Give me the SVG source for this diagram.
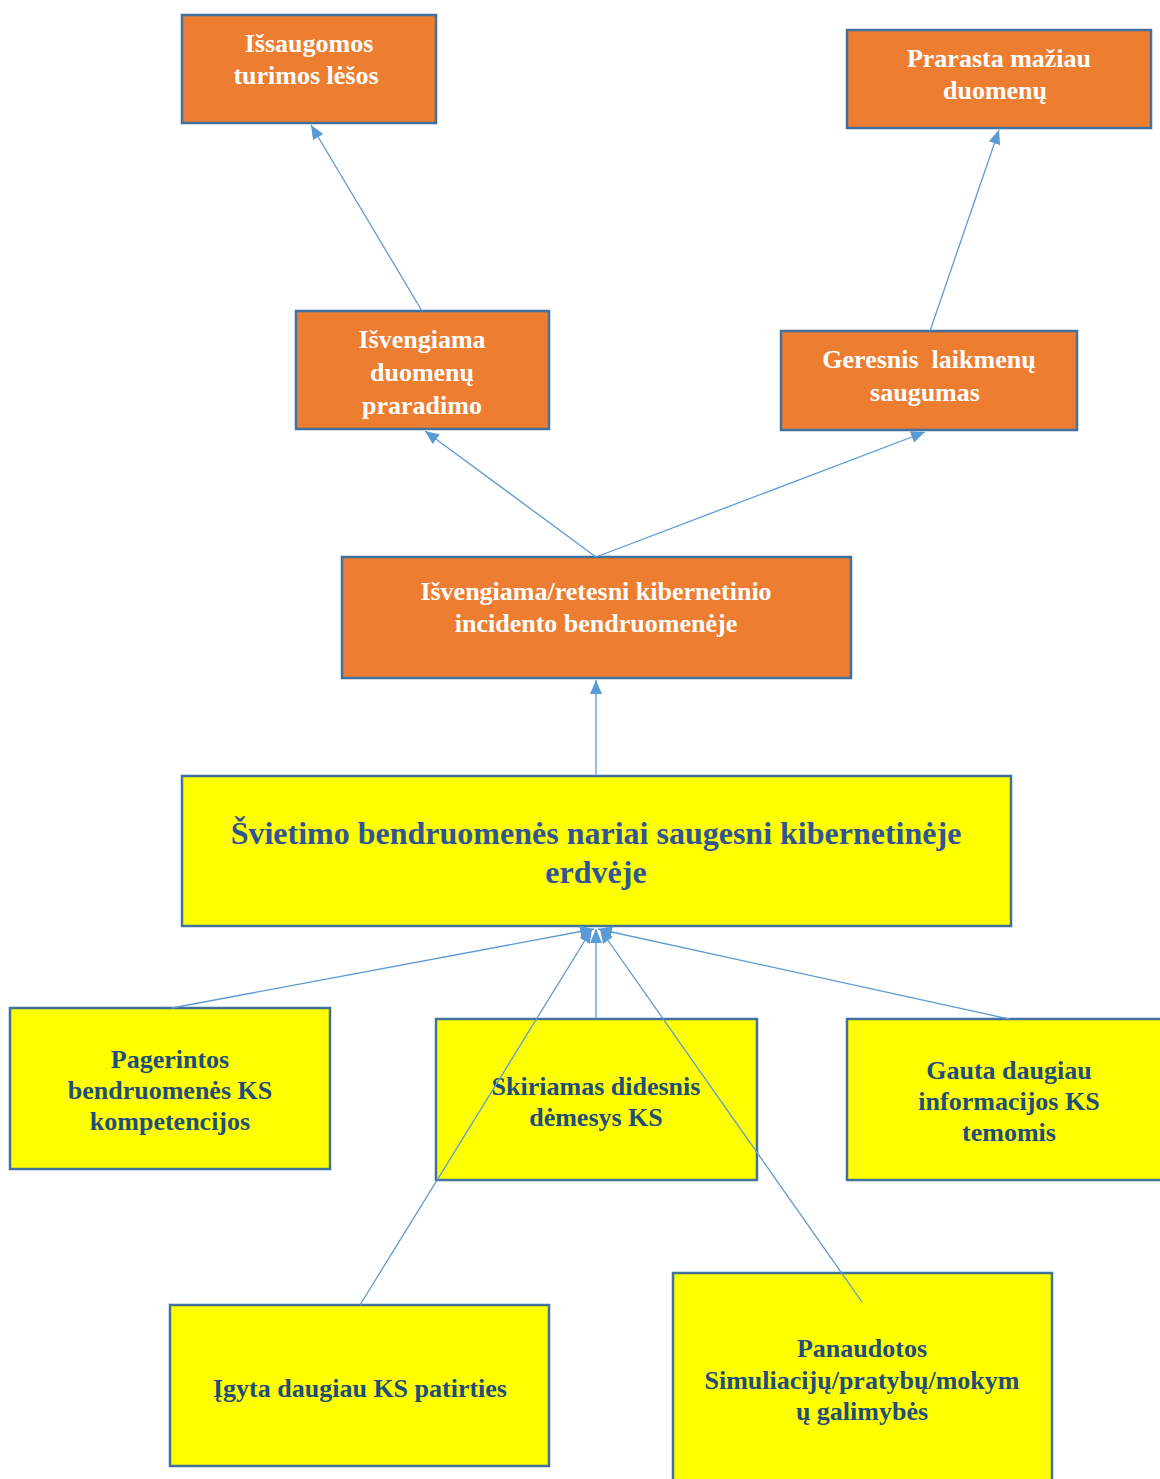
<svg xmlns="http://www.w3.org/2000/svg" width="1160" height="1479" viewBox="0 0 1160 1479">
<style>
.o{fill:#ED7D31;stroke:#41719C;stroke-width:2.5}
.y{fill:#FFFF00;stroke:#41719C;stroke-width:2.5}
.tw{font-family:"Liberation Serif",serif;font-weight:bold;font-size:26px;fill:#FFFFFF;text-anchor:middle}
.tb{font-family:"Liberation Serif",serif;font-weight:bold;font-size:26px;fill:#1F4E79;text-anchor:middle}
.tm{font-family:"Liberation Serif",serif;font-weight:bold;font-size:32px;fill:#2F5597;text-anchor:middle}
.c line{stroke:#5B9BD5;stroke-width:1.3;fill:none}
</style>
<defs>
<marker id="ah" viewBox="0 0 14 12" refX="14" refY="6" markerWidth="14" markerHeight="12" markerUnits="userSpaceOnUse" orient="auto">
<path d="M0,0 L14,6 L0,12 z" fill="#5B9BD5"/>
</marker>
</defs>
<rect width="1160" height="1479" fill="#FFFFFF"/>
<g id="n1"><rect class="o" x="182" y="15" width="254" height="108"/>
<text class="tw" x="309" y="52">Išsaugomos</text><text class="tw" x="306" y="84">turimos lėšos</text></g>
<g id="n2"><rect class="o" x="847" y="30" width="304" height="98"/>
<text class="tw" x="999" y="67">Prarasta mažiau</text><text class="tw" x="995" y="99">duomenų</text></g>
<g id="n3"><rect class="o" x="296" y="311" width="253" height="118"/>
<text class="tw" x="422" y="348">Išvengiama</text><text class="tw" x="422" y="381">duomenų</text><text class="tw" x="422" y="414">praradimo</text></g>
<g id="n4"><rect class="o" x="781" y="331" width="296" height="99"/>
<text class="tw" x="929" y="368" xml:space="preserve">Geresnis  laikmenų</text><text class="tw" x="925" y="401">saugumas</text></g>
<g id="n5"><rect class="o" x="342" y="557" width="509" height="121"/>
<text class="tw" x="596" y="600">Išvengiama/retesni kibernetinio</text><text class="tw" x="596" y="632">incidento bendruomenėje</text></g>
<g id="n6"><rect class="y" x="182" y="776" width="829" height="150"/>
<text class="tm" x="596" y="844">Švietimo bendruomenės nariai saugesni kibernetinėje</text><text class="tm" x="596" y="883">erdvėje</text></g>
<g id="n7"><rect class="y" x="10" y="1008" width="320" height="161"/>
<text class="tb" x="170" y="1068">Pagerintos</text><text class="tb" x="170" y="1099">bendruomenės KS</text><text class="tb" x="170" y="1130">kompetencijos</text></g>
<g id="n8"><rect class="y" x="436" y="1019" width="321" height="161"/>
<text class="tb" x="596" y="1095">Skiriamas didesnis</text><text class="tb" x="596" y="1126">dėmesys KS</text></g>
<g id="n9"><rect class="y" x="847" y="1019" width="325" height="161"/>
<text class="tb" x="1009" y="1079">Gauta daugiau</text><text class="tb" x="1009" y="1110">informacijos KS</text><text class="tb" x="1009" y="1141">temomis</text></g>
<g id="n10"><rect class="y" x="170" y="1305" width="379" height="161"/>
<text class="tb" x="360" y="1397">Įgyta daugiau KS patirties</text></g>
<g id="n11"><rect class="y" x="673" y="1273" width="379" height="215"/>
<text class="tb" x="862" y="1357">Panaudotos</text><text class="tb" x="862" y="1389">Simuliacijų/pratybų/mokym</text><text class="tb" x="862" y="1420">ų galimybės</text></g>
<g id="connectors" class="c">
<line x1="422" y1="311" x2="311" y2="125" marker-end="url(#ah)"/>
<line x1="930" y1="331" x2="999" y2="130" marker-end="url(#ah)"/>
<line x1="596" y1="557" x2="425" y2="431" marker-end="url(#ah)"/>
<line x1="596" y1="557" x2="925" y2="432" marker-end="url(#ah)"/>
<line x1="596" y1="776" x2="596" y2="680" marker-end="url(#ah)"/>
<line x1="172" y1="1008" x2="594" y2="929" marker-end="url(#ah)"/>
<line x1="596" y1="1019" x2="596" y2="929" marker-end="url(#ah)"/>
<line x1="1009" y1="1019" x2="598" y2="929" marker-end="url(#ah)"/>
<line x1="360" y1="1305" x2="592" y2="929" marker-end="url(#ah)"/>
<line x1="862" y1="1302" x2="600" y2="929" marker-end="url(#ah)"/>
</g>
</svg>
